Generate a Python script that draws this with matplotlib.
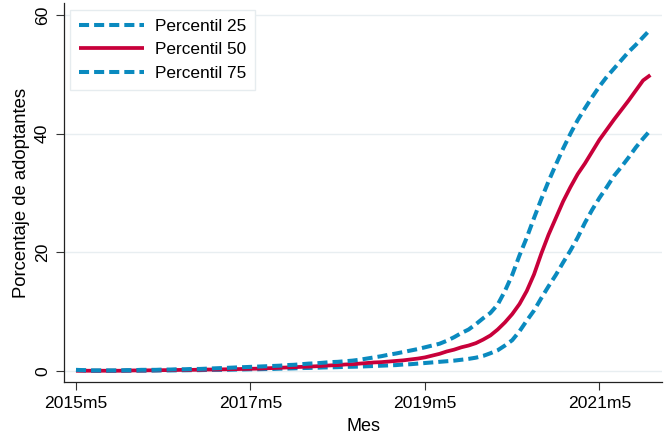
import numpy as np
import matplotlib
matplotlib.use("Agg")
from matplotlib import pyplot as plt

# monthly series, 2015m5 .. 2021m12 (index 0 = 2015m5)
p25 = [0.15, 0.1, 0.05, 0.05, 0.05, 0.05, 0.05, 0.05, 0.05, 0.05,
       0.05, 0.08, 0.1, 0.1, 0.12, 0.13, 0.15, 0.15, 0.18, 0.2,
       0.2, 0.22, 0.25, 0.27, 0.3, 0.3, 0.33, 0.35, 0.4, 0.42,
       0.45, 0.5, 0.52, 0.55, 0.6, 0.62, 0.65, 0.7, 0.72, 0.75,
       0.8, 0.85, 0.9, 0.95, 1.0, 1.1, 1.15, 1.25, 1.35, 1.45,
       1.55, 1.65, 1.75, 1.9, 2.05, 2.25, 2.55, 3.0, 3.5, 4.3,
       5.2, 6.7, 8.5, 10.2, 12.3, 14.3, 16.2, 18.3, 20.3, 22.5,
       25.0, 27.2, 29.2, 31.0, 32.9, 34.4, 36.0, 37.7, 39.2, 40.6]
p50 = [0.05, 0.05, 0.05, 0.05, 0.05, 0.05, 0.05, 0.08, 0.1, 0.1,
       0.12, 0.12, 0.15, 0.15, 0.18, 0.2, 0.2, 0.22, 0.25, 0.25,
       0.28, 0.3, 0.32, 0.35, 0.38, 0.4, 0.45, 0.5, 0.55, 0.6,
       0.65, 0.7, 0.75, 0.8, 0.88, 0.95, 1.0, 1.1, 1.15, 1.25,
       1.35, 1.45, 1.5, 1.6, 1.7, 1.8, 1.95, 2.1, 2.3, 2.6,
       2.9, 3.3, 3.6, 4.0, 4.3, 4.7, 5.3, 6.0, 7.0, 8.2,
       9.6, 11.3, 13.5, 16.3, 19.8, 23.0, 25.8, 28.6, 31.0, 33.2,
       35.0, 37.0, 39.0, 40.7, 42.4, 44.0, 45.6, 47.3, 49.0, 49.9]
p75 = [0.2, 0.15, 0.1, 0.1, 0.1, 0.1, 0.1, 0.15, 0.15, 0.2,
       0.2, 0.2, 0.25, 0.25, 0.3, 0.3, 0.35, 0.35, 0.4, 0.45,
       0.5, 0.55, 0.6, 0.65, 0.7, 0.75, 0.8, 0.85, 0.9, 1.0,
       1.05, 1.15, 1.25, 1.3, 1.4, 1.5, 1.55, 1.65, 1.75, 1.9,
       2.1, 2.3, 2.5, 2.75, 2.95, 3.2, 3.45, 3.7, 4.0, 4.3,
       4.6, 5.1, 5.7, 6.4, 7.0, 7.9, 8.9, 9.8, 11.2, 13.5,
       16.2, 19.5, 22.5, 25.8, 29.0, 32.0, 34.8, 37.5, 40.0, 42.3,
       44.3, 46.2, 48.0, 49.6, 51.0, 52.4, 53.8, 55.0, 56.3, 57.6]

xtick_pos = [0, 24, 48, 72]
xtick_labels = ["2015m5", "2017m5", "2019m5", "2021m5"]
yticks = [0, 20, 40, 60]

blue = "#0a8abf"
red = "#c8003a"

plt.rcParams['font.family'] = ['Liberation Sans', 'DejaVu Sans']

months = np.arange(len(p50))

fig = plt.figure(figsize=(6.67, 4.36), dpi=100)
ax = fig.add_axes([64 / 667, 54 / 436, 598 / 667, 379 / 436])

lw_d = 2.9
lw_s = 2.7
ax.plot(months, p25, color=blue, lw=lw_d, linestyle=(0, (2.5, 1.25)),
        label="Percentil 25")
ax.plot(months, p50, color=red, lw=lw_s, solid_capstyle='butt',
        label="Percentil 50")
ax.plot(months, p75, color=blue, lw=lw_d, linestyle=(0, (2.5, 1.25)),
        label="Percentil 75")

ax.set_xlim(-1.65, 80.6)
ax.set_ylim(-1.85, 62.05)

ax.set_xticks(xtick_pos)
ax.set_xticklabels(xtick_labels, fontsize=12.6)
ax.set_yticks(yticks)
ax.set_yticklabels([str(v) for v in yticks], fontsize=12.6, rotation=90,
                   va='center')
ax.tick_params(direction='out', length=6, width=0.8, color='#333333',
               pad=4)

ax.grid(axis='y', color='#e8eef1', lw=1.0)
ax.set_axisbelow(True)
for s in ['top', 'right']:
    ax.spines[s].set_visible(False)
for s in ['left', 'bottom']:
    ax.spines[s].set_color('#222222')
    ax.spines[s].set_linewidth(0.9)

ax.set_xlabel("Mes", fontsize=13, labelpad=5)
ax.set_ylabel("Porcentaje de adoptantes", fontsize=13.3, labelpad=4)

leg = ax.legend(loc='upper left', bbox_to_anchor=(70 / 667, 1 - 10 / 436),
                bbox_transform=fig.transFigure, borderaxespad=0,
                fontsize=12.4, handlelength=3.8, handletextpad=0.64,
                labelspacing=0.5, borderpad=0.5, fancybox=False,
                framealpha=1)
leg.get_frame().set_edgecolor('#e6ecef')
leg.get_frame().set_linewidth(1.0)

fig.savefig("out.png", dpi=100)
